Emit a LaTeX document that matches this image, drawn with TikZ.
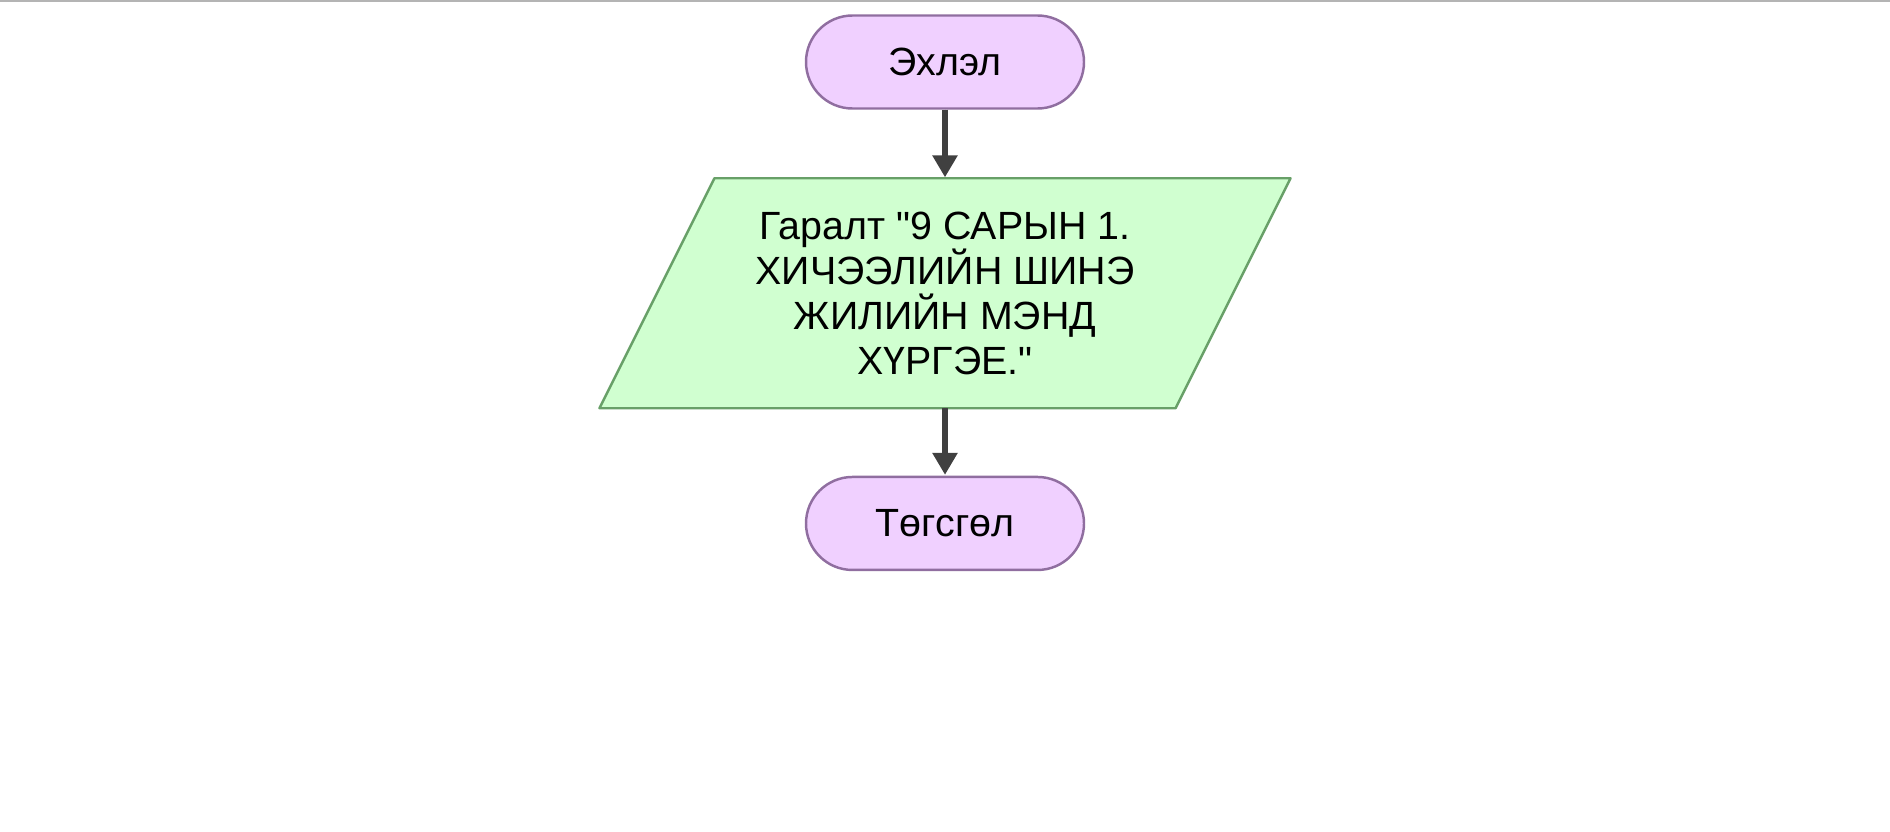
\documentclass[tikz,border=0pt]{standalone}
\usepackage{fontspec}
\setmainfont{Liberation Sans}
\usetikzlibrary{positioning,arrows.meta,backgrounds}

\definecolor{termfill}{RGB}{240,208,255}
\definecolor{termline}{RGB}{144,110,160}
\definecolor{iofill}{RGB}{208,255,208}
\definecolor{ioline}{RGB}{104,160,104}
\definecolor{arrowgray}{RGB}{64,64,64}
\definecolor{topline}{RGB}{180,180,180}

\begin{document}
\begin{tikzpicture}[
    terminal/.style={draw=termline, fill=termfill, rectangle, rounded corners=0.93cm, line width=1.4pt, minimum width=5.56cm, minimum height=1.86cm, align=center, font=\fontsize{22.4pt}{25.6pt}\selectfont},
    io/.style={rectangle, minimum width=11.52cm, minimum height=4.6cm, outer sep=0pt, align=center, font=\fontsize{22.4pt}{25.6pt}\selectfont},
    ioshape/.style={draw=ioline, fill=iofill, line width=1.4pt, line join=round},
    arrow/.style={-{Triangle[length=4.4mm, width=4.8mm]}, line width=3.2pt, draw=arrowgray, fill=arrowgray, shorten >=0.5pt}
]
\useasboundingbox (0,0) rectangle (37.8,-16.62);
\draw[topline, line width=0.04cm] (0,-0.02) -- (37.8,-0.02);

% Start
\node[terminal] (start) at (18.9,-1.24) {Эхлэл};

% Output
\node[io, below=1.37cm of start] (out) {Гаралт \textquotedbl9 САРЫН 1.\\ХИЧЭЭЛИЙН ШИНЭ\\ЖИЛИЙН МЭНД\\ХҮРГЭЕ.\textquotedbl};
\begin{scope}[on background layer]
\draw[ioshape] ([xshift=1.15cm]out.north west) -- ([xshift=1.15cm]out.north east)
    -- ([xshift=-1.15cm]out.south east) -- ([xshift=-1.15cm]out.south west) -- cycle;
\end{scope}

% End
\node[terminal, below=1.35cm of out] (finish) {Төгсгөл};

% Connections
\draw[arrow] (start) -- (out);
\draw[arrow] (out) -- (finish);

\end{tikzpicture}
\end{document}
